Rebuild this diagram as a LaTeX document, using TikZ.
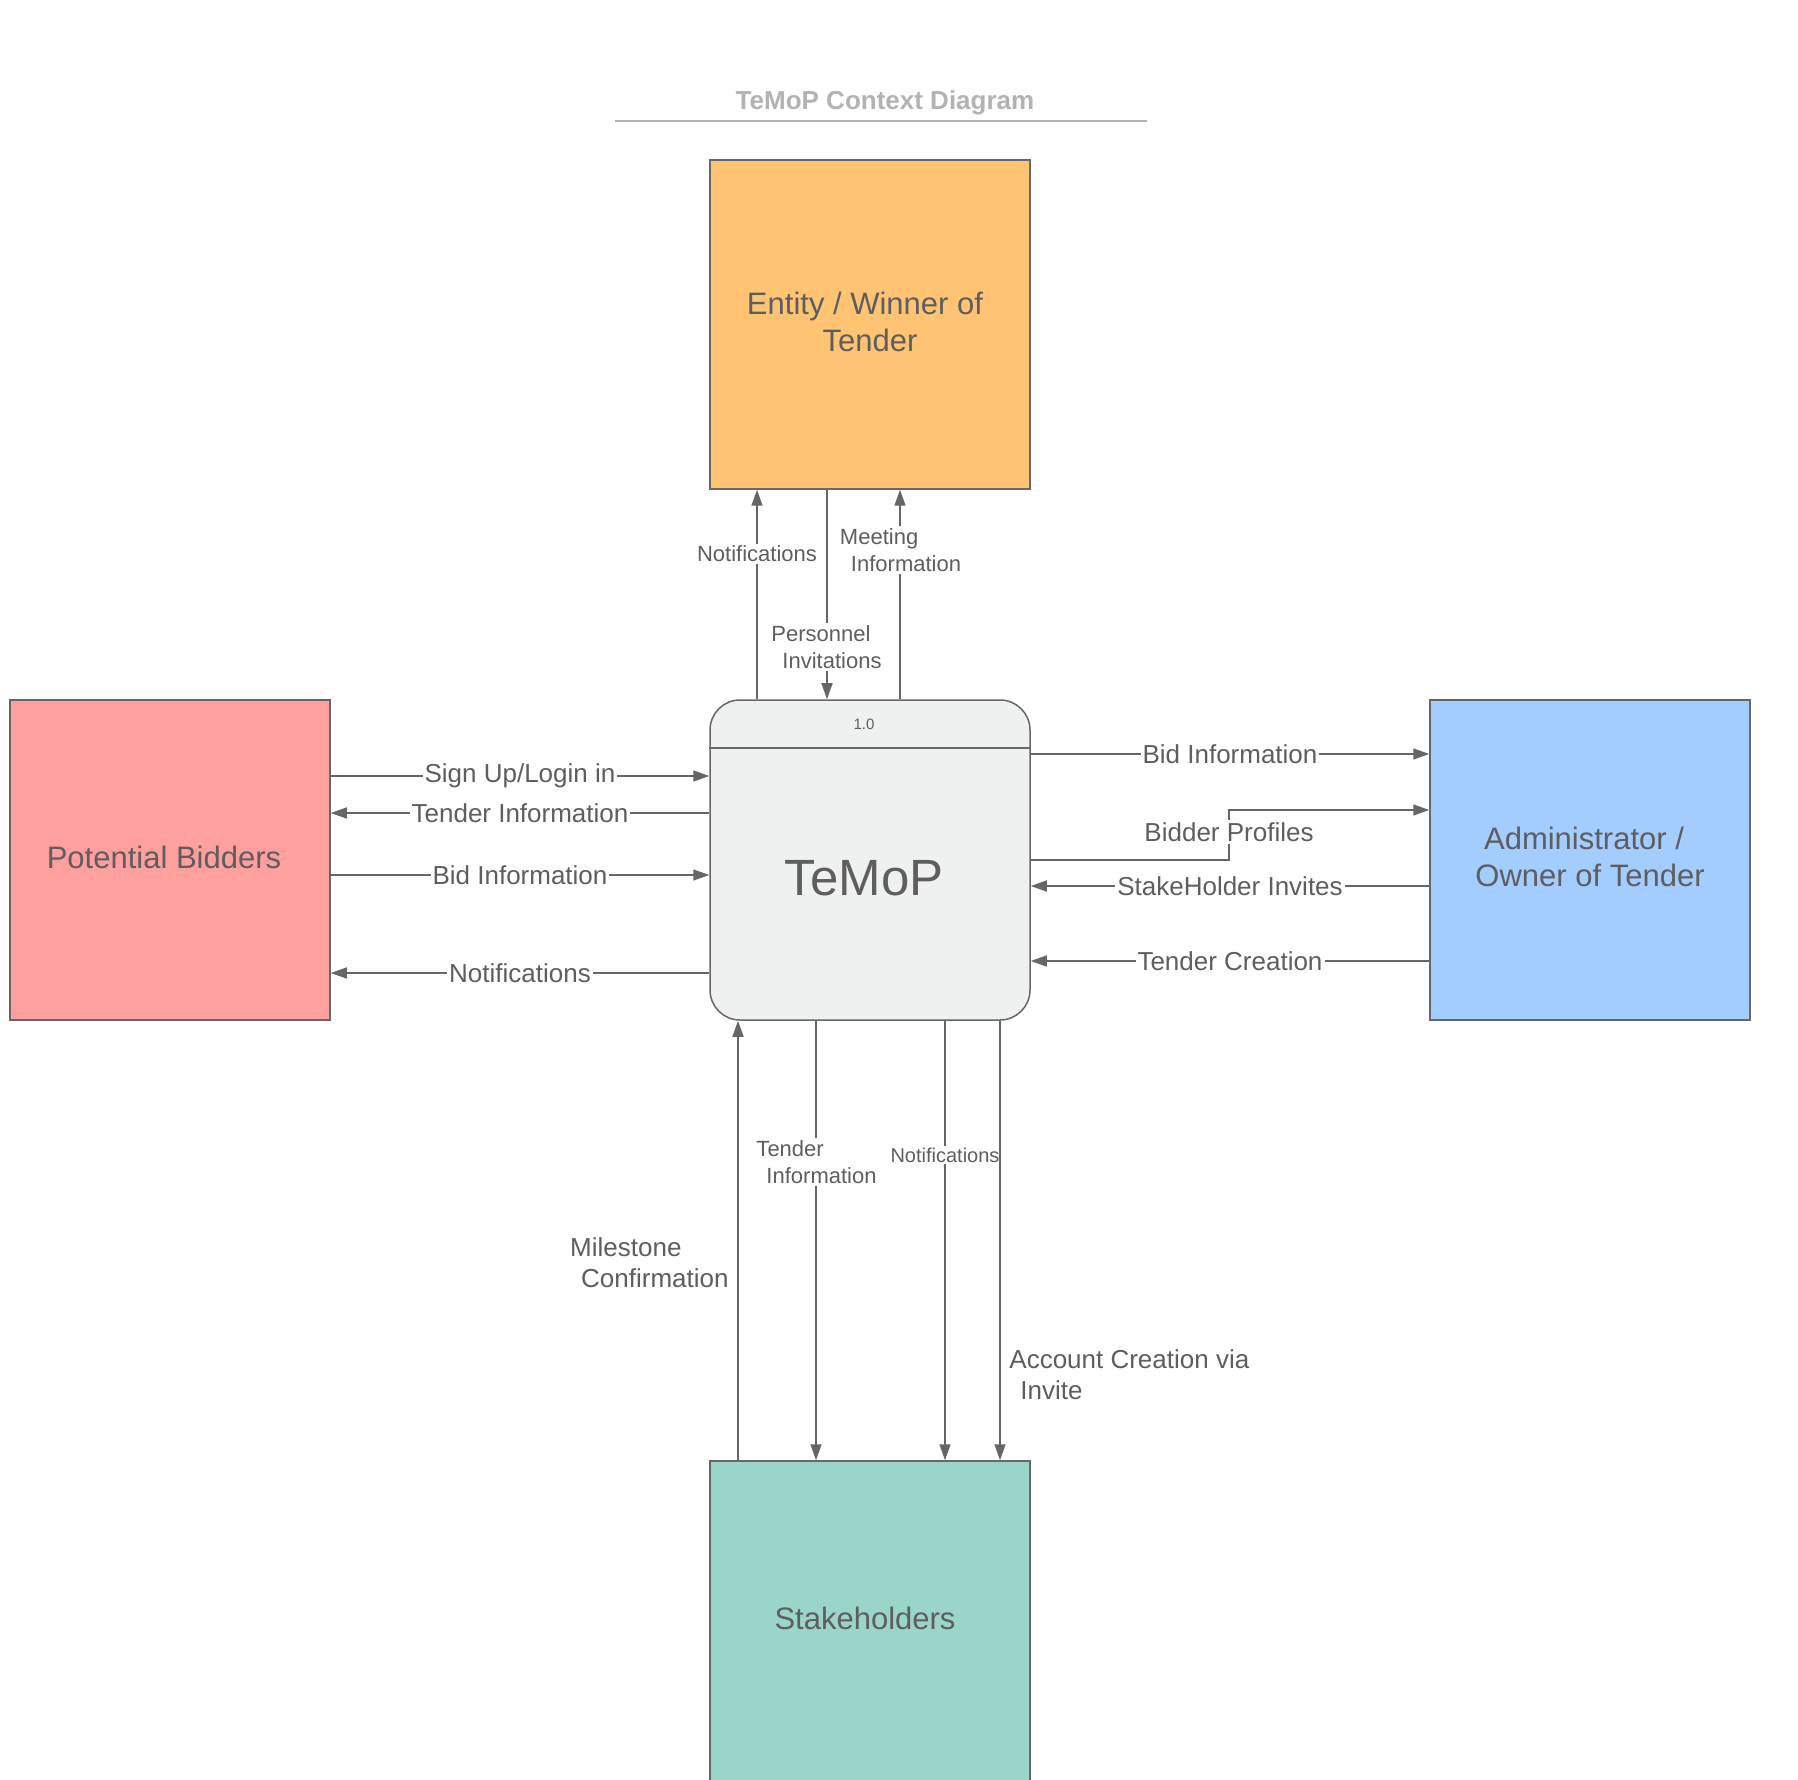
\documentclass[tikz,border=0pt]{standalone}
\usepackage{fontspec}
\setmainfont{Liberation Sans}
\usetikzlibrary{arrows.meta}
\definecolor{txtgray}{HTML}{5E5E5E}
\definecolor{linegray}{HTML}{666666}
\definecolor{bordergray}{HTML}{676767}
\definecolor{titlegray}{HTML}{B3B3B3}
\definecolor{orangebox}{HTML}{FFC374}
\definecolor{pinkbox}{HTML}{FF9F9E}
\definecolor{bluebox}{HTML}{A3CCFF}
\definecolor{tealbox}{HTML}{9AD5CA}
\definecolor{temopfill}{HTML}{EFF0F0}
\tikzset{
  boxbase/.style={draw=bordergray, line width=0.75pt, minimum width=160pt, inner sep=0pt},
  boxtext/.style={text=txtgray, font=\fontsize{15.5}{18.5}\selectfont, align=center, inner sep=0pt},
  flow/.style={draw=linegray, line width=0.75pt, -{Triangle[length=8pt,width=5.5pt]}},
  lblmid/.style={fill=white, inner sep=1pt, text=txtgray, font=\fontsize{13}{15.5}\selectfont},
  lblsmall/.style={fill=white, inner sep=1pt, text=txtgray, font=\fontsize{11}{13.5}\selectfont, align=left},
  lblxs/.style={fill=white, inner sep=1pt, text=txtgray, font=\fontsize{10}{12}\selectfont},
  lblfree/.style={inner sep=0pt, text=txtgray, font=\fontsize{13}{15.5}\selectfont, align=left}
}
\begin{document}
\begin{tikzpicture}[x=0.5pt,y=-0.5pt]
\clip (0,0) rectangle (1798,1780);
\fill[white] (0,0) rectangle (1798,1780);

% title
\node[font=\bfseries\fontsize{13}{15.6}\selectfont, text=titlegray] (title) at (885,103) {TeMoP Context Diagram};
\coordinate (tl) at (615,121);
\coordinate (tr) at (1147,121);
\draw[draw=titlegray, line width=1pt] (tl) -- (tr);

% boxes
\node[boxbase, fill=orangebox, minimum height=164.5pt] (ent) at (870,324.5) {};
\node[boxtext] (enttxt) at (870,322) {Entity / Winner of\hspace*{5pt}\\Tender};
\node[boxbase, fill=pinkbox, minimum height=160pt] (pb) at (170,860) {};
\node[boxtext] (pbtxt) at (164,857) {Potential Bidders};
\node[boxbase, fill=temopfill, rounded corners=15pt, minimum height=160pt] (tm) at (870,860) {};
\node[boxbase, fill=bluebox, minimum height=160pt] (adm) at (1590,860) {};
\node[boxtext] (admtxt) at (1590,857) {Administrator /\hspace*{6pt}\\Owner of Tender};
\node[boxbase, fill=tealbox, minimum height=164.5pt] (stk) at (870,1625.5) {};
\node[boxtext] (stktxt) at (865,1618) {Stakeholders};

% process header
\coordinate (hdr) at (0,748);
\draw[draw=bordergray, line width=0.75pt] (tm.west |- hdr) -- (tm.east |- hdr);
\node[font=\fontsize{7.5}{9}\selectfont, text=txtgray] (ver) at (864,724) {1.0};
\node[font=\fontsize{25.5}{30}\selectfont, text=txtgray] (tmtxt) at (864,878) {TeMoP};

% left flows
\coordinate (yl1) at (0,776);
\coordinate (yl2) at (0,813);
\coordinate (yl3) at (0,875);
\coordinate (yl4) at (0,973);
\draw[flow] (pb.east |- yl1) -- node[lblmid] (l1) {Sign Up/Login in} (tm.west |- yl1);
\draw[flow] (tm.west |- yl2) -- node[lblmid] (l2) {Tender Information} (pb.east |- yl2);
\draw[flow] (pb.east |- yl3) -- node[lblmid] (l3) {Bid Information} (tm.west |- yl3);
\draw[flow] (tm.west |- yl4) -- node[lblmid] (l4) {Notifications} (pb.east |- yl4);

% right flows
\coordinate (yr1) at (0,754);
\coordinate (yr2) at (0,860);
\coordinate (bpbend) at (1229,810);
\coordinate (yr3) at (0,886);
\coordinate (yr4) at (0,961);
\draw[flow] (tm.east |- yr1) -- node[lblmid] (r1) {Bid Information} (adm.west |- yr1);
\draw[flow] (tm.east |- yr2) -| (bpbend) -- (adm.west |- bpbend);
\node[lblmid] (r2) at (1229,832) {Bidder Profiles};
\draw[flow] (adm.west |- yr3) -- node[lblmid] (r3) {StakeHolder Invites} (tm.east |- yr3);
\draw[flow] (adm.west |- yr4) -- node[lblmid] (r4) {Tender Creation} (tm.east |- yr4);

% top flows
\coordinate (xa) at (757,0);
\coordinate (xb) at (827,0);
\coordinate (xc) at (900,0);
\draw[flow] (tm.north -| xa) -- (ent.south -| xa);
\node[lblsmall] (t1) at (757,554) {Notifications};
\draw[flow] (ent.south -| xb) -- (tm.north -| xb);
\node[lblsmall] (t2) at (826.5,647) {Personnel\\\hspace*{5.5pt}Invitations};
\draw[flow] (tm.north -| xc) -- (ent.south -| xc);
\node[lblsmall] (t3) at (900.5,550) {Meeting\\\hspace*{5.5pt}Information};

% bottom flows
\coordinate (xd) at (738,0);
\coordinate (xe) at (816,0);
\coordinate (xf) at (945,0);
\coordinate (xg) at (1000,0);
\draw[flow] (stk.north -| xd) -- (tm.south -| xd);
\node[lblfree, anchor=east] (b1) at (729,1263) {Milestone\\\hspace*{5.5pt}Confirmation};
\draw[flow] (tm.south -| xe) -- (stk.north -| xe);
\node[lblsmall] (b2) at (816.5,1162) {Tender\\\hspace*{5pt}Information};
\draw[flow] (tm.south -| xf) -- (stk.north -| xf);
\node[lblxs] (b3) at (945,1155) {Notifications};
\draw[flow] (tm.south -| xg) -- (stk.north -| xg);
\node[lblfree, anchor=west] (b4) at (1009,1375) {Account Creation via\\\hspace*{5.5pt}Invite};
\end{tikzpicture}
\end{document}
